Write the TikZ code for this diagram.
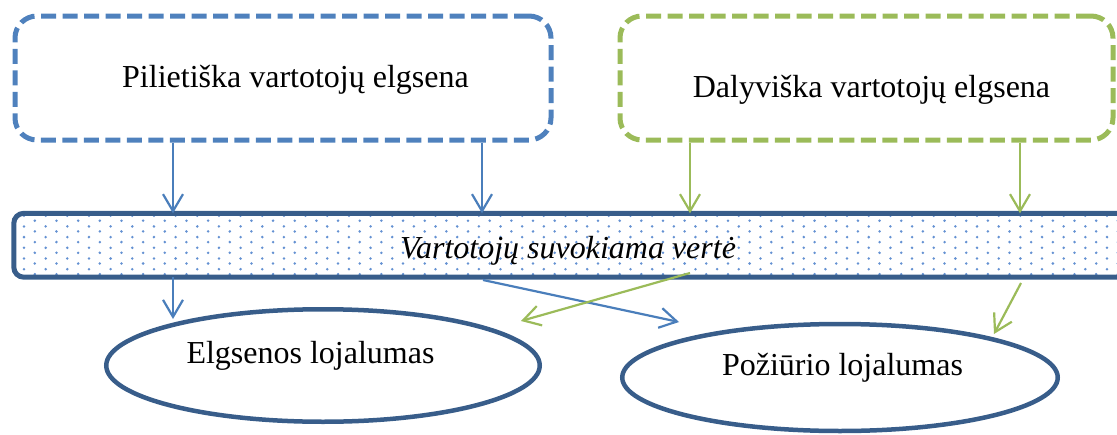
\documentclass[tikz,border=0pt]{standalone}
\usepackage{fontspec}
\setmainfont{Liberation Serif}
\usetikzlibrary{arrows.meta,shapes.geometric}

\definecolor{boxblue}{HTML}{4F81BD}
\definecolor{arrowblue}{HTML}{4A7EBB}
\definecolor{boxgreen}{HTML}{9BBB59}
\definecolor{darkblue}{HTML}{385D8A}
\definecolor{dotblue}{RGB}{100,145,210}

\begin{document}
\begin{tikzpicture}[x=1pt,y=-1pt,
  dashbox/.style={draw=#1, line width=5pt, rounded corners=22pt,
    dash pattern=on 15pt off 6.5pt, inner sep=0pt},
  bandbox/.style={draw=darkblue, line width=5pt, rounded corners=10pt, inner sep=0pt},
  loyal/.style={ellipse, draw=darkblue, line width=4.5pt, inner sep=0pt},
  label/.style={inner sep=0pt, anchor=base, font=\fontsize{32}{38}\selectfont},
  conn/.style={draw=#1, line width=2.2pt,
    -{Straight Barb[length=17pt,width=20pt]}}
]
\useasboundingbox (0,0) rectangle (1117,434);

% two source boxes
\node[dashbox=boxblue, minimum width=536pt, minimum height=124pt] (pb) at (283,78) {};
\node[dashbox=boxgreen, minimum width=493pt, minimum height=124pt] (db) at (866.5,78) {};
\node[label] (pbt) at (295.5,87) {Pilietiška vartotojų elgsena};
\node[label] (dbt) at (871.5,97) {Dalyviška vartotojų elgsena};

% perceived value band with dotted fill
\node[minimum width=1116pt, minimum height=63.5pt, inner sep=0pt] (band) at (572,245.25) {};
\begin{scope}
  \clip[rounded corners=10pt] (band.north west) rectangle (band.south east);
  \foreach \i in {0,...,102} {
    \pgfmathsetmacro\xx{24+10.83*\i}
    \pgfmathsetmacro\yy{215.7+5*mod(\i,2)}
    \foreach \k in {0,...,5}
      \fill[dotblue] (\xx,\yy+10.7*\k) circle[radius=1.4pt];
  }
\end{scope}
\draw[bandbox] (band.north west) rectangle (band.south east);
\node[label, font=\fontsize{32}{38}\selectfont\itshape] (bandt) at (568,258) {Vartotojų suvokiama vertė};

% loyalty ellipses
\node[loyal, minimum width=433.5pt, minimum height=112.5pt] (e1) at (323,365.5) {};
\node[loyal, minimum width=435.5pt, minimum height=107pt] (e2) at (840,377.5) {};
\node[label] (e1t) at (310.5,363) {Elgsenos lojalumas};
\node[label] (e2t) at (842.5,375) {Požiūrio lojalumas};

% connector columns and free ends
\coordinate (xa) at (173,0);
\coordinate (xb) at (482,0);
\coordinate (xc) at (690,0);
\coordinate (xd) at (1020,0);
\coordinate (t3) at (173,319);
\coordinate (s4) at (483,280);
\coordinate (t4) at (679,322);
\coordinate (s5) at (690,273);
\coordinate (t5) at (521,321);
\coordinate (s6) at (1021,283);
\coordinate (t6) at (994,334);

% connectors
\draw[conn=arrowblue] (pb.south -| xa) -- (band.north -| xa);
\draw[conn=arrowblue] (pb.south -| xb) -- (band.north -| xb);
\draw[conn=boxgreen] (db.south -| xc) -- (band.north -| xc);
\draw[conn=boxgreen] (db.south -| xd) -- (band.north -| xd);
\draw[conn=arrowblue] (band.south -| xa) -- (t3);
\draw[conn=arrowblue] (s4) -- (t4);
\draw[conn=boxgreen] (s5) -- (t5);
\draw[conn=boxgreen] (s6) -- (t6);
\end{tikzpicture}
\end{document}
